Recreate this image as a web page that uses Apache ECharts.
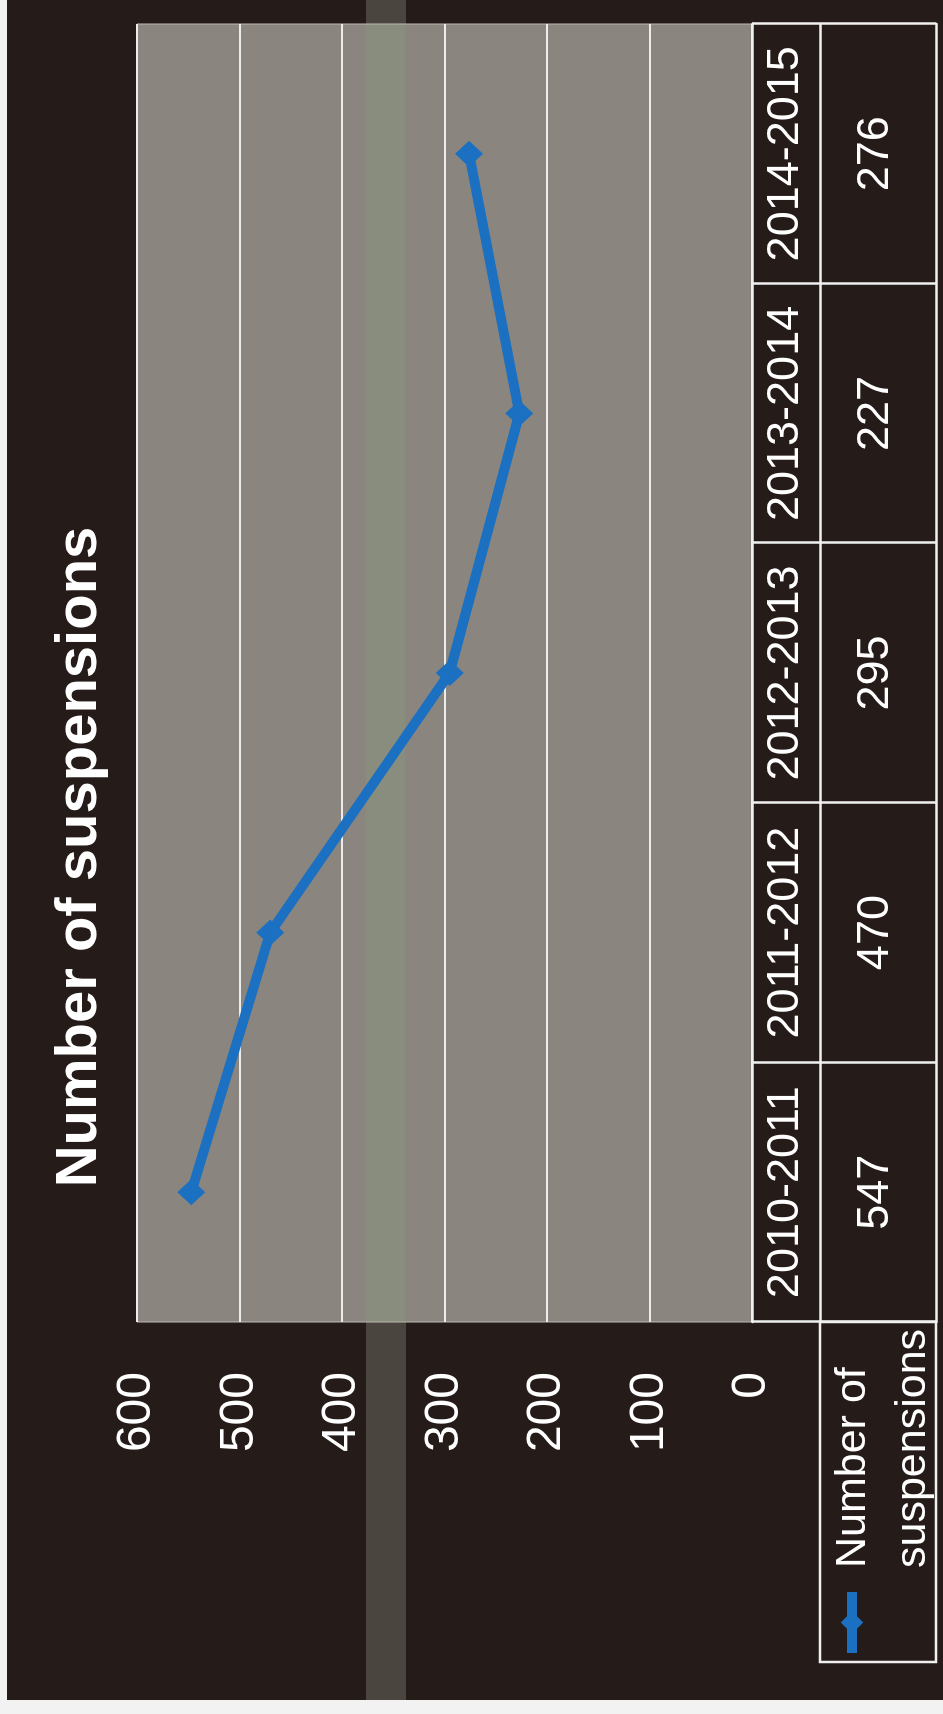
<!DOCTYPE html>
<html>
<head>
<meta charset="utf-8">
<script src="https://cdn.jsdelivr.net/npm/echarts@6/dist/echarts.min.js"></script>
<style>
html, body { margin:0; padding:0; width:943px; height:1714px; overflow:hidden; background:#f2f2f2; }
#frame { position:absolute; left:0; top:0; width:1714px; height:943px; transform-origin:0 0; transform:translateY(1714px) rotate(-90deg); background:#f2f2f2; }
#bg { position:absolute; left:14px; top:7px; width:1700px; height:936px; background:#251b19; }
.band { position:absolute; top:366px; height:40px; background:#4b4540; }
#chart { position:absolute; left:0; top:0; width:1714px; height:943px; }
</style>
</head>
<body>
<div id="frame">
  <div id="bg"></div>
  <div class="band" style="left:14px;width:378px"></div>
  <div class="band" style="left:1690px;width:24px"></div>
  <div id="chart"></div>
</div>
<script>
// ---- data ----
const categories = ['2010-2011', '2011-2012', '2012-2013', '2013-2014', '2014-2015'];
const suspensions = [547, 470, 295, 227, 276];
const seriesName = 'Number of suspensions';
const legendLines = ['Number of', 'suspensions'];
const valueMin = 0, valueMax = 600, valueStep = 100;

// ---- chart ----
const FONT = '"Liberation Sans", Arial, Helvetica, sans-serif';
const WHITE = '#f0f0f0';
const BLUE = '#1b70c2';
const G = { left: 392, right: 24, top: 137, bottom: 191 };

const chart = echarts.init(document.getElementById('chart'), null, { renderer: 'canvas' });

const tableLine = { lineStyle: { color: WHITE, width: 2.5 } };
const cellLabel = { color: '#ffffff', fontSize: 45, fontFamily: FONT, interval: 0 };

const option = {
  backgroundColor: 'transparent',
  animation: false,
  textStyle: { fontFamily: FONT },
  title: {
    text: seriesName,
    left: 'center',
    top: 46,
    textStyle: { color: '#ffffff', fontSize: 58, fontWeight: 'bold', fontFamily: FONT }
  },
  grid: {
    left: G.left, right: G.right, top: G.top, bottom: G.bottom,
    show: true, backgroundColor: '#8a867f', borderColor: '#bdb9b3', borderWidth: 1
  },
  legend: {
    data: [seriesName],
    left: 56, top: 761, padding: 0,
    itemWidth: 61, itemHeight: 28,
    lineStyle: { width: 10 },
    formatter: () => '{e| }\n{t|' + legendLines[0] + '}\n{t|' + legendLines[1] + '}',
    textStyle: {
      color: '#ffffff', fontSize: 43, fontFamily: FONT, padding: [0, 0, 0, 19],
      rich: {
        e: { fontSize: 10, lineHeight: 62, height: 62 },
        t: { color: '#ffffff', fontSize: 43, lineHeight: 60, fontFamily: FONT }
      }
    }
  },
  xAxis: [
    {
      type: 'category', data: categories, position: 'bottom',
      axisLine: tableLine,
      axisTick: { show: true, interval: 0, length: 184, lineStyle: { color: WHITE, width: 2.5 } },
      axisLabel: Object.assign({ margin: 11 }, cellLabel)
    },
    {
      type: 'category', data: categories, position: 'bottom', offset: 68,
      axisLine: tableLine, axisTick: { show: false },
      axisLabel: Object.assign({ margin: 33, formatter: (v, i) => String(suspensions[i]) }, cellLabel)
    },
    {
      type: 'category', data: categories, position: 'bottom', offset: 184,
      axisLine: tableLine, axisTick: { show: false }, axisLabel: { show: false }
    }
  ],
  yAxis: {
    type: 'value', min: valueMin, max: valueMax, interval: valueStep,
    axisLine: { show: false }, axisTick: { show: false },
    splitLine: { lineStyle: { color: '#ececec', width: 2 } },
    axisLabel: { color: '#ffffff', fontSize: 48, margin: 50, fontFamily: FONT }
  },
  series: [{
    name: seriesName,
    type: 'line',
    xAxisIndex: 0,
    data: suspensions,
    symbol: 'diamond',
    symbolSize: [26, 28],
    lineStyle: { color: BLUE, width: 10 },
    itemStyle: { color: BLUE },
    markArea: {
      silent: true,
      itemStyle: { color: 'rgba(128,178,118,0.15)' },
      data: [[{ yAxis: 338 }, { yAxis: 377 }]]
    }
  }],
  graphic: [{
    type: 'rect',
    shape: { x: 52, y: 820, width: 340, height: 116 },
    style: { fill: null, stroke: WHITE, lineWidth: 2.5 },
    z: 10
  }]
};
chart.setOption(option);
</script>
</body>
</html>
